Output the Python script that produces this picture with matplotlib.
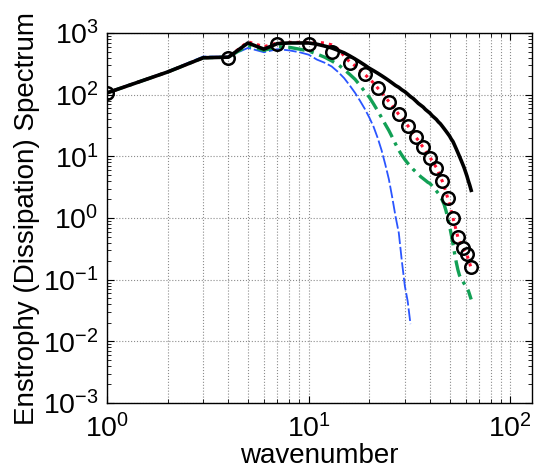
import matplotlib
matplotlib.use("Agg")
import matplotlib.pyplot as plt
import numpy as np

plt.rcParams['font.family'] = ['Liberation Sans', 'DejaVu Sans']
plt.rcParams['mathtext.fontset'] = 'custom'
plt.rcParams['mathtext.rm'] = 'Liberation Sans'
plt.rcParams['mathtext.it'] = 'Liberation Sans:italic'
plt.rcParams['mathtext.bf'] = 'Liberation Sans:bold'

# wavenumbers
k_full = np.arange(1, 65)
k_blue = np.arange(1, 33)
k_circ = np.arange(1, 65, 3)

# log10 of spectra
black_log = [2.03, 2.37, 2.60, 2.61, 2.84, 2.74, 2.83, 2.84, 2.84, 2.84,
             2.82, 2.79, 2.76, 2.72, 2.68, 2.63, 2.58, 2.53, 2.48, 2.43,
             2.39, 2.35, 2.31, 2.27, 2.23, 2.19, 2.15, 2.12, 2.08, 2.05,
             2.01, 1.97, 1.94, 1.90, 1.86, 1.83, 1.80, 1.76, 1.73, 1.70,
             1.66, 1.63, 1.60, 1.56, 1.53, 1.49, 1.45, 1.41, 1.37, 1.33,
             1.28, 1.24, 1.18, 1.12, 1.06, 1.00, 0.94, 0.88, 0.82, 0.75,
             0.68, 0.60, 0.53, 0.45]

red_log = [2.03, 2.37, 2.60, 2.61, 2.86, 2.78, 2.84, 2.85, 2.85, 2.85,
           2.85, 2.84, 2.81, 2.74, 2.63, 2.53, 2.47, 2.40, 2.33, 2.26,
           2.19, 2.11, 2.04, 1.96, 1.89, 1.82, 1.75, 1.68, 1.62, 1.56,
           1.50, 1.44, 1.37, 1.31, 1.26, 1.20, 1.145, 1.09, 1.03, 0.98,
           0.93, 0.87, 0.82, 0.75, 0.67, 0.60, 0.51, 0.42, 0.32, 0.22,
           0.11, 0.00, -0.10, -0.21, -0.31, -0.37, -0.43, -0.48, -0.52, -0.56,
           -0.60, -0.67, -0.74, -0.82]

green_log = [2.03, 2.37, 2.60, 2.61, 2.80, 2.72, 2.78, 2.77, 2.74, 2.71,
             2.66, 2.61, 2.55, 2.49, 2.41, 2.33, 2.25, 2.15, 2.05, 1.96,
             1.85, 1.74, 1.63, 1.52, 1.42, 1.31, 1.20, 1.10, 1.02, 0.95,
             0.89, 0.84, 0.79, 0.75, 0.71, 0.67, 0.64, 0.61, 0.58, 0.56,
             0.52, 0.48, 0.44, 0.40, 0.35, 0.29, 0.22, 0.12, 0.00, -0.13,
             -0.27, -0.42, -0.58, -0.72, -0.84, -0.93, -0.98, -1.02, -1.06, -1.10,
             -1.14, -1.18, -1.25, -1.32]

blue_log = [2.04, 2.38, 2.62, 2.62, 2.76, 2.69, 2.74, 2.72, 2.69, 2.65,
            2.57, 2.52, 2.46, 2.37, 2.27, 2.15, 2.03, 1.90, 1.77, 1.63,
            1.48, 1.30, 1.10, 0.87, 0.63, 0.33, 0.02, -0.24, -0.70, -1.10,
            -1.35, -1.72]

circ_log = [2.03, 2.60, 2.82, 2.82, 2.69, 2.52, 2.34, 2.11, 1.89, 1.68,
            1.50, 1.31, 1.145, 0.98, 0.82, 0.60, 0.32, 0.00, -0.31, -0.48,
            -0.58, -0.79]

fig = plt.figure(figsize=(5.34, 4.73), dpi=100)
ax = fig.add_axes([0.2004, 0.148, 0.7956, 0.782])

ax.loglog(k_blue, 10 ** np.array(blue_log), color='#2a55ff', lw=1.3,
          dashes=(7, 1.6))
ax.loglog(k_full, 10 ** np.array(green_log), color='#12a055', lw=2.4,
          dashes=(5, 1.8, 1, 1.8))
ax.loglog(k_full, 10 ** np.array(red_log), color='#ff1030', lw=2.2,
          linestyle=':')
ax.loglog(k_full, 10 ** np.array(black_log), color='black', lw=2.6)
ax.loglog(k_circ, 10 ** np.array(circ_log), linestyle='none', marker='o',
          markersize=9, markerfacecolor='none', markeredgecolor='black',
          markeredgewidth=1.8)

ax.set_xlim(1, 128)
ax.set_ylim(1e-3, 1e3)

ax.grid(True, which='major', linestyle=':', color='0.55', lw=0.8)
ax.grid(True, which='minor', axis='x', linestyle=':', color='0.55', lw=0.8)

ax.tick_params(which='both', direction='in', top=True, right=True,
               labelsize=20.5)
ax.tick_params(axis='x', which='major', pad=8)
ax.tick_params(axis='y', which='major', pad=6)
ax.tick_params(which='major', length=5)
ax.tick_params(which='minor', length=3)
for s in ax.spines.values():
    s.set_linewidth(1.0)

ax.set_xlabel('wavenumber', fontsize=20, labelpad=0)
ax.set_ylabel('Enstrophy (Dissipation) Spectrum', fontsize=20, labelpad=2)

fig.savefig('out.png', dpi=100)
